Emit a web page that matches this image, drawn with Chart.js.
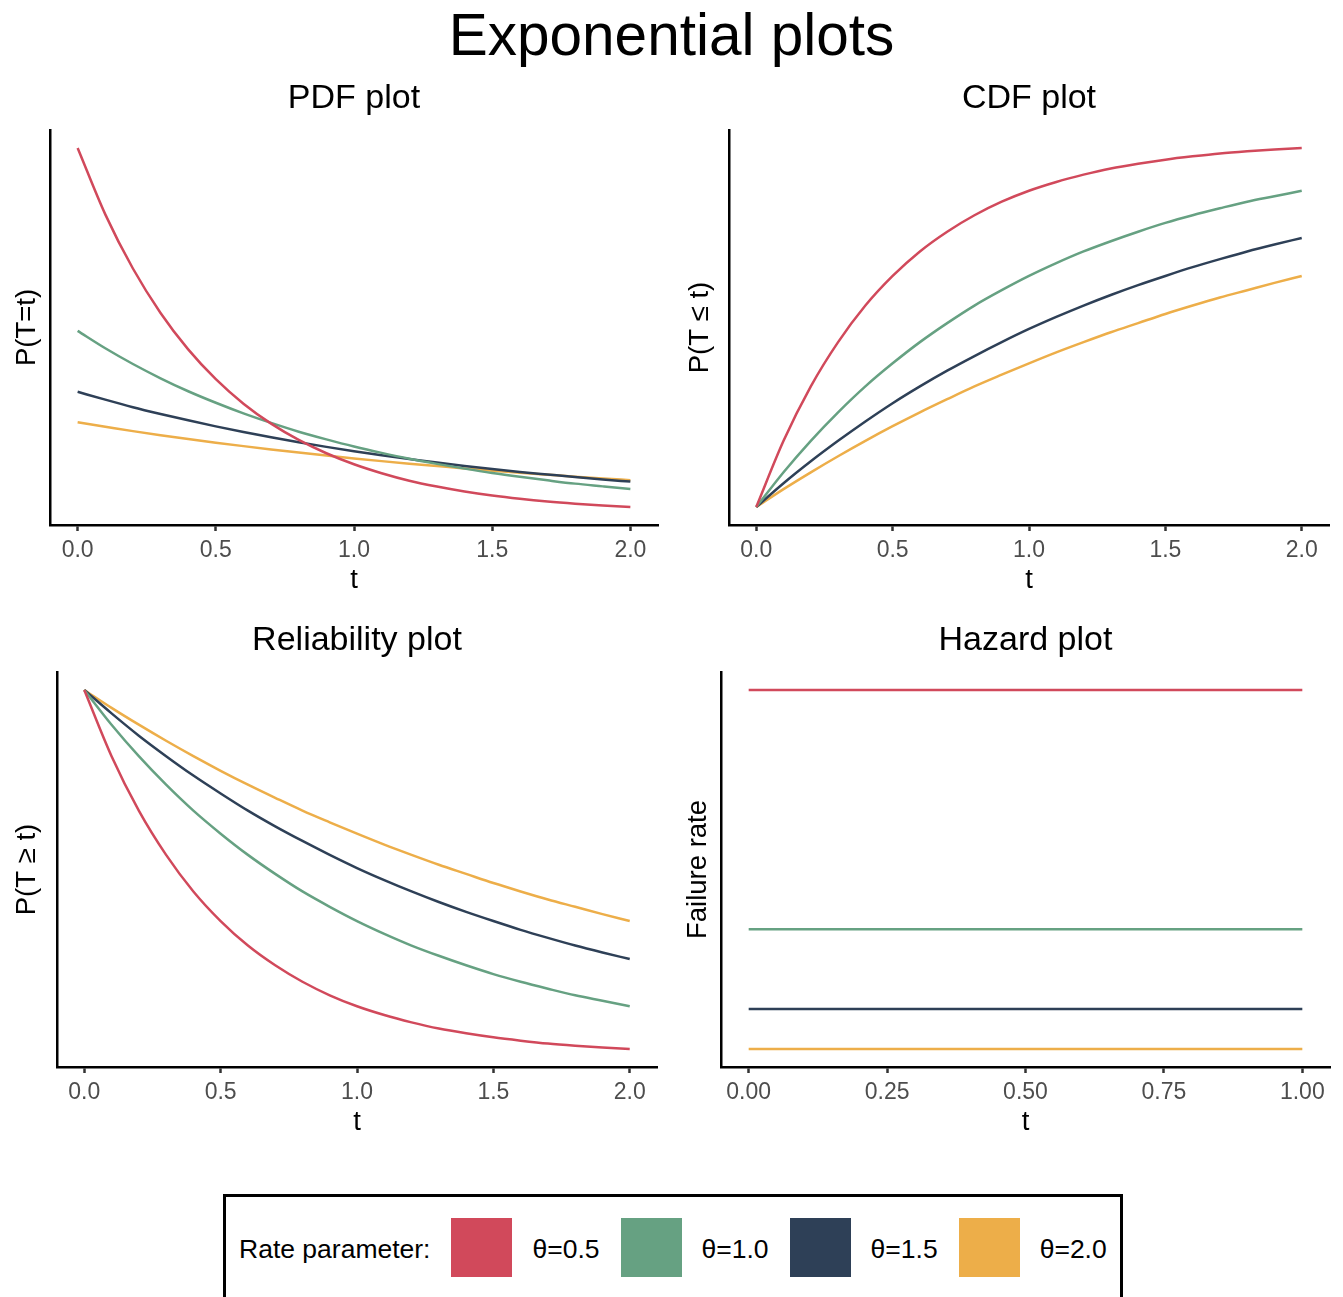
<!DOCTYPE html>
<html>
<head>
<meta charset="utf-8">
<script src="https://cdn.jsdelivr.net/npm/chart.js@4.4.1/dist/chart.umd.min.js"></script>
<style>
  body { margin: 0; background: #fff; font-family: "Liberation Sans", Arial, sans-serif; }
  #pagina { position: relative; width: 1343px; height: 1297px; overflow: hidden; background: #fff; }
  #titulo { position: absolute; left: 0; top: 6px; width: 1343px; text-align: center; font-size: 58.5px; line-height: 58px; color: #000; }
  canvas { position: absolute; }
  #leyenda { position: absolute; left: 223px; top: 1194px; width: 900px; height: 140px; box-sizing: border-box; border: 3px solid #000; }
  #fila { position: absolute; left: 13px; top: 21px; height: 59px; display: flex; align-items: center; font-size: 26.5px; line-height: 26px; color: #000; }
  #fila span:first-child { position: relative; top: 1px; }
  .clave { width: 61px; height: 59px; margin-left: 21px; }
  .etiqueta { margin-left: 20px; position: relative; top: 1px; }
</style>
</head>
<body>
<div id="pagina">
  <div id="titulo">Exponential plots</div>
  <canvas id="pdf" width="700" height="539" style="left:0px; top:60px;"></canvas>
  <canvas id="cdf" width="673" height="539" style="left:670px; top:60px;"></canvas>
  <canvas id="fiabilidad" width="700" height="539" style="left:0px; top:602px;"></canvas>
  <canvas id="riesgo" width="673" height="539" style="left:670px; top:602px;"></canvas>
  <div id="leyenda"><div id="fila"><span>Rate parameter:</span></div></div>
</div>
<script>
// valores de t (cada 0.1) para las curvas de densidad, distribución y fiabilidad
const tiempos = [0, 0.1, 0.2, 0.3, 0.4, 0.5, 0.6, 0.7, 0.8, 0.9, 1.0, 1.1, 1.2, 1.3, 1.4, 1.5, 1.6, 1.7, 1.8, 1.9, 2.0];

const pdfTheta05 = [2.000, 1.637, 1.341, 1.098, 0.899, 0.736, 0.602, 0.493, 0.404, 0.331, 0.271, 0.222, 0.181, 0.149, 0.122, 0.100, 0.082, 0.067, 0.055, 0.045, 0.037];
const pdfTheta10 = [1.000, 0.905, 0.819, 0.741, 0.670, 0.607, 0.549, 0.497, 0.449, 0.407, 0.368, 0.333, 0.301, 0.273, 0.247, 0.223, 0.202, 0.183, 0.165, 0.150, 0.135];
const pdfTheta15 = [0.667, 0.624, 0.583, 0.546, 0.511, 0.478, 0.447, 0.418, 0.391, 0.366, 0.342, 0.320, 0.300, 0.280, 0.262, 0.245, 0.229, 0.215, 0.201, 0.188, 0.176];
const pdfTheta20 = [0.500, 0.476, 0.452, 0.430, 0.409, 0.389, 0.370, 0.352, 0.335, 0.319, 0.303, 0.288, 0.274, 0.261, 0.248, 0.236, 0.225, 0.214, 0.203, 0.193, 0.184];

const cdfTheta05 = [0, 0.181, 0.330, 0.451, 0.551, 0.632, 0.699, 0.753, 0.798, 0.835, 0.865, 0.889, 0.909, 0.926, 0.939, 0.950, 0.959, 0.967, 0.973, 0.978, 0.982];
const cdfTheta10 = [0, 0.095, 0.181, 0.259, 0.330, 0.393, 0.451, 0.503, 0.551, 0.593, 0.632, 0.667, 0.699, 0.727, 0.753, 0.777, 0.798, 0.817, 0.835, 0.850, 0.865];
const cdfTheta15 = [0, 0.065, 0.125, 0.181, 0.234, 0.284, 0.330, 0.373, 0.413, 0.451, 0.487, 0.520, 0.551, 0.580, 0.607, 0.632, 0.656, 0.678, 0.699, 0.718, 0.736];
const cdfTheta20 = [0, 0.049, 0.095, 0.139, 0.181, 0.221, 0.259, 0.295, 0.330, 0.362, 0.393, 0.423, 0.451, 0.478, 0.503, 0.528, 0.551, 0.573, 0.593, 0.613, 0.632];

const fiabTheta05 = [1, 0.819, 0.670, 0.549, 0.449, 0.368, 0.301, 0.247, 0.202, 0.165, 0.135, 0.111, 0.091, 0.074, 0.061, 0.050, 0.041, 0.033, 0.027, 0.022, 0.018];
const fiabTheta10 = [1, 0.905, 0.819, 0.741, 0.670, 0.607, 0.549, 0.497, 0.449, 0.407, 0.368, 0.333, 0.301, 0.273, 0.247, 0.223, 0.202, 0.183, 0.165, 0.150, 0.135];
const fiabTheta15 = [1, 0.936, 0.875, 0.819, 0.766, 0.717, 0.670, 0.627, 0.587, 0.549, 0.513, 0.480, 0.449, 0.420, 0.393, 0.368, 0.344, 0.322, 0.301, 0.282, 0.264];
const fiabTheta20 = [1, 0.951, 0.905, 0.861, 0.819, 0.779, 0.741, 0.705, 0.670, 0.638, 0.607, 0.577, 0.549, 0.522, 0.497, 0.472, 0.449, 0.427, 0.407, 0.387, 0.368];

// tasa de fallo constante
const tiemposRiesgo = [0, 1];
const riesgoTheta05 = [2, 2];
const riesgoTheta10 = [1, 1];
const riesgoTheta15 = [0.667, 0.667];
const riesgoTheta20 = [0.5, 0.5];

const marcasT = [0, 0.5, 1, 1.5, 2];
const marcasRiesgo = [0, 0.25, 0.5, 0.75, 1];
const etiquetasTheta = ["θ=0.5", "θ=1.0", "θ=1.5", "θ=2.0"];
const colores = ["#d1495b", "#66a182", "#2e4057", "#edae49"];

const fuente = "'Liberation Sans', Arial, sans-serif";

function crearPanel(idCanvas, titulo, tituloY, xs, series, marcas, decimales, anchoEjeY, padTituloY, padDerecha) {
    const todos = series.flat();
    const yMin = Math.min(...todos);
    const yMax = Math.max(...todos);
    const margenY = (yMax - yMin) * 0.05;
    const margenX = (xs[xs.length - 1] - xs[0]) * 0.05;

    new Chart(document.getElementById(idCanvas), {
        type: 'line',
        data: {
            datasets: series.map((valores, i) => ({
                label: etiquetasTheta[i],
                data: valores.map((v, j) => ({ x: xs[j], y: v })),
                borderColor: colores[i],
                borderWidth: 2.5,
                pointRadius: 0,
                cubicInterpolationMode: 'monotone',
                fill: false
            }))
        },
        options: {
            responsive: false,
            animation: false,
            layout: { padding: { left: 0, right: padDerecha, top: 0, bottom: 0 } },
            plugins: {
                legend: { display: false },
                tooltip: { enabled: false },
                title: {
                    display: true,
                    text: titulo,
                    fullSize: false,
                    color: '#000',
                    font: { family: fuente, size: 34, weight: 'normal' },
                    padding: { top: 18.6, bottom: 10.6 }
                }
            },
            scales: {
                x: {
                    type: 'linear',
                    min: xs[0] - margenX,
                    max: xs[xs.length - 1] + margenX,
                    afterBuildTicks: s => { s.ticks = marcas.map(v => ({ value: v })); },
                    afterFit: s => { s.height = 74; },
                    ticks: {
                        callback: v => Number(v).toFixed(decimales),
                        color: '#4d4d4d',
                        font: { family: fuente, size: 23 },
                        padding: 6,
                        maxRotation: 0,
                        autoSkip: false
                    },
                    grid: { display: true, drawOnChartArea: false, drawTicks: true, tickLength: 6, tickWidth: 2.5, tickColor: '#333333' },
                    border: { display: true, color: '#000', width: 2.5 },
                    title: { display: true, text: 't', color: '#000', font: { family: fuente, size: 27.5 }, padding: { top: 0, bottom: 2 } }
                },
                y: {
                    type: 'linear',
                    min: yMin - margenY,
                    max: yMax + margenY,
                    afterFit: s => { s.width = anchoEjeY; },
                    ticks: { display: false },
                    grid: { display: false },
                    border: { display: true, color: '#000', width: 2.5 },
                    title: { display: true, text: tituloY, color: '#000', font: { family: fuente, size: 27.5 }, padding: { top: padTituloY, bottom: 0 } }
                }
            }
        }
    });
}

crearPanel("pdf", "PDF plot", "P(T=t)", tiempos,
    [pdfTheta05, pdfTheta10, pdfTheta15, pdfTheta20], marcasT, 1, 50, 10.5, 42);
crearPanel("cdf", "CDF plot", "P(T \u2264 t)", tiempos,
    [cdfTheta05, cdfTheta10, cdfTheta15, cdfTheta20], marcasT, 1, 59, 13.5, 14);
crearPanel("fiabilidad", "Reliability plot", "P(T \u2265 t)", tiempos,
    [fiabTheta05, fiabTheta10, fiabTheta15, fiabTheta20], marcasT, 1, 57, 10.5, 43);
crearPanel("riesgo", "Hazard plot", "Failure rate", tiemposRiesgo,
    [riesgoTheta05, riesgoTheta10, riesgoTheta15, riesgoTheta20], marcasRiesgo, 2, 51, 11.5, 13);

// leyenda común
const fila = document.getElementById("fila");
etiquetasTheta.forEach((texto, i) => {
    const clave = document.createElement("div");
    clave.className = "clave";
    clave.style.background = colores[i];
    fila.appendChild(clave);
    const etiqueta = document.createElement("span");
    etiqueta.className = "etiqueta";
    etiqueta.textContent = texto;
    fila.appendChild(etiqueta);
});
</script>
</body>
</html>
